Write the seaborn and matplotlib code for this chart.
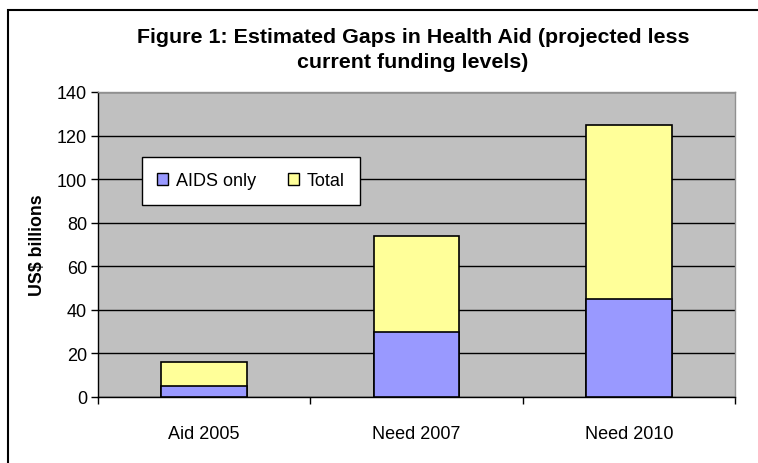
import matplotlib
matplotlib.use("Agg")
import matplotlib.pyplot as plt
import seaborn as sns
import pandas as pd
from matplotlib.patches import Rectangle, Patch

categories = ["Aid 2005", "Need 2007", "Need 2010"]
aids_only = [5, 30, 45]
total = [16, 74, 125]
yticks = [0, 20, 40, 60, 80, 100, 120, 140]

sns.set_theme(style="white")
plt.rcParams['font.family'] = ['Liberation Sans', 'DejaVu Sans']
plt.rcParams['text.color'] = 'black'
plt.rcParams['axes.labelcolor'] = 'black'
plt.rcParams['xtick.color'] = 'black'
plt.rcParams['ytick.color'] = 'black'

df = pd.DataFrame({"cat": categories, "aids": aids_only, "total": total})

fig = plt.figure(figsize=(7.58, 4.64), dpi=100)
fig.patch.set_facecolor("white")
ax = fig.add_axes([98/758, 1-398/464, (735-98)/758, (398-93)/464])
ax.set_facecolor("#C0C0C0")

sns.barplot(data=df, x="cat", y="total", color="#FFFF99", saturation=1,
            width=0.405, edgecolor="black", linewidth=1.2, ax=ax, zorder=3)
sns.barplot(data=df, x="cat", y="aids", color="#9999FF", saturation=1,
            width=0.405, edgecolor="black", linewidth=1.2, ax=ax, zorder=4)

ax.set_xlim(-0.5, 2.5)
ax.set_ylim(0, 140)
ax.set_yticks(yticks)
ax.set_yticklabels([str(v) for v in yticks], fontsize=13)
ax.set_xticks([0, 1, 2])
ax.set_xticklabels(categories, fontsize=13)
ax.tick_params(axis='x', length=0, pad=20)
ax.tick_params(axis='y', length=5, width=1, color="black", direction="out", pad=3, left=True)
ax.set_xticks([-0.5, 0.5, 1.5, 2.5], minor=True)
ax.tick_params(axis='x', which='minor', length=5, width=1, color="black", direction="out", bottom=True)

ax.yaxis.grid(True, color="black", linewidth=1)
ax.set_axisbelow(True)
for g in ax.get_ygridlines():
    g.set_zorder(1)

ax.set_xlabel("")
ax.set_ylabel("US$ billions", fontsize=12.8, fontweight="bold", labelpad=8)

ax.spines['left'].set_color("black")
ax.spines['bottom'].set_color("black")
ax.spines['top'].set_color("#909090")
ax.spines['right'].set_color("#909090")
for s in ax.spines.values():
    s.set_linewidth(1)
    s.set_visible(True)

handles = [Patch(facecolor="#9999FF", edgecolor="black", linewidth=1),
           Patch(facecolor="#FFFF99", edgecolor="black", linewidth=1)]
leg = ax.legend(handles, ["AIDS only", "Total"], ncol=2, fontsize=13,
                loc="upper left", bbox_to_anchor=((142-98)/637, (398-158)/305),
                borderaxespad=0,
                frameon=True, fancybox=False, shadow=False,
                handlelength=0.6, handleheight=0.6, handletextpad=0.45,
                columnspacing=1.75, borderpad=0.85, framealpha=1)
leg.get_frame().set_edgecolor("black")
leg.get_frame().set_linewidth(1)
leg.set_zorder(10)

fig.text(413/758, 1-50/464,
         "Figure 1: Estimated Gaps in Health Aid (projected less\ncurrent funding levels)",
         ha="center", va="center", fontsize=15.4, fontweight="bold", linespacing=1.42)

fig.patches.append(Rectangle((8/758, -0.1), 1.2, 1-11/464+0.1, transform=fig.transFigure,
                             fill=False, edgecolor="black", linewidth=1.5))

fig.savefig("out.png", dpi=100)
